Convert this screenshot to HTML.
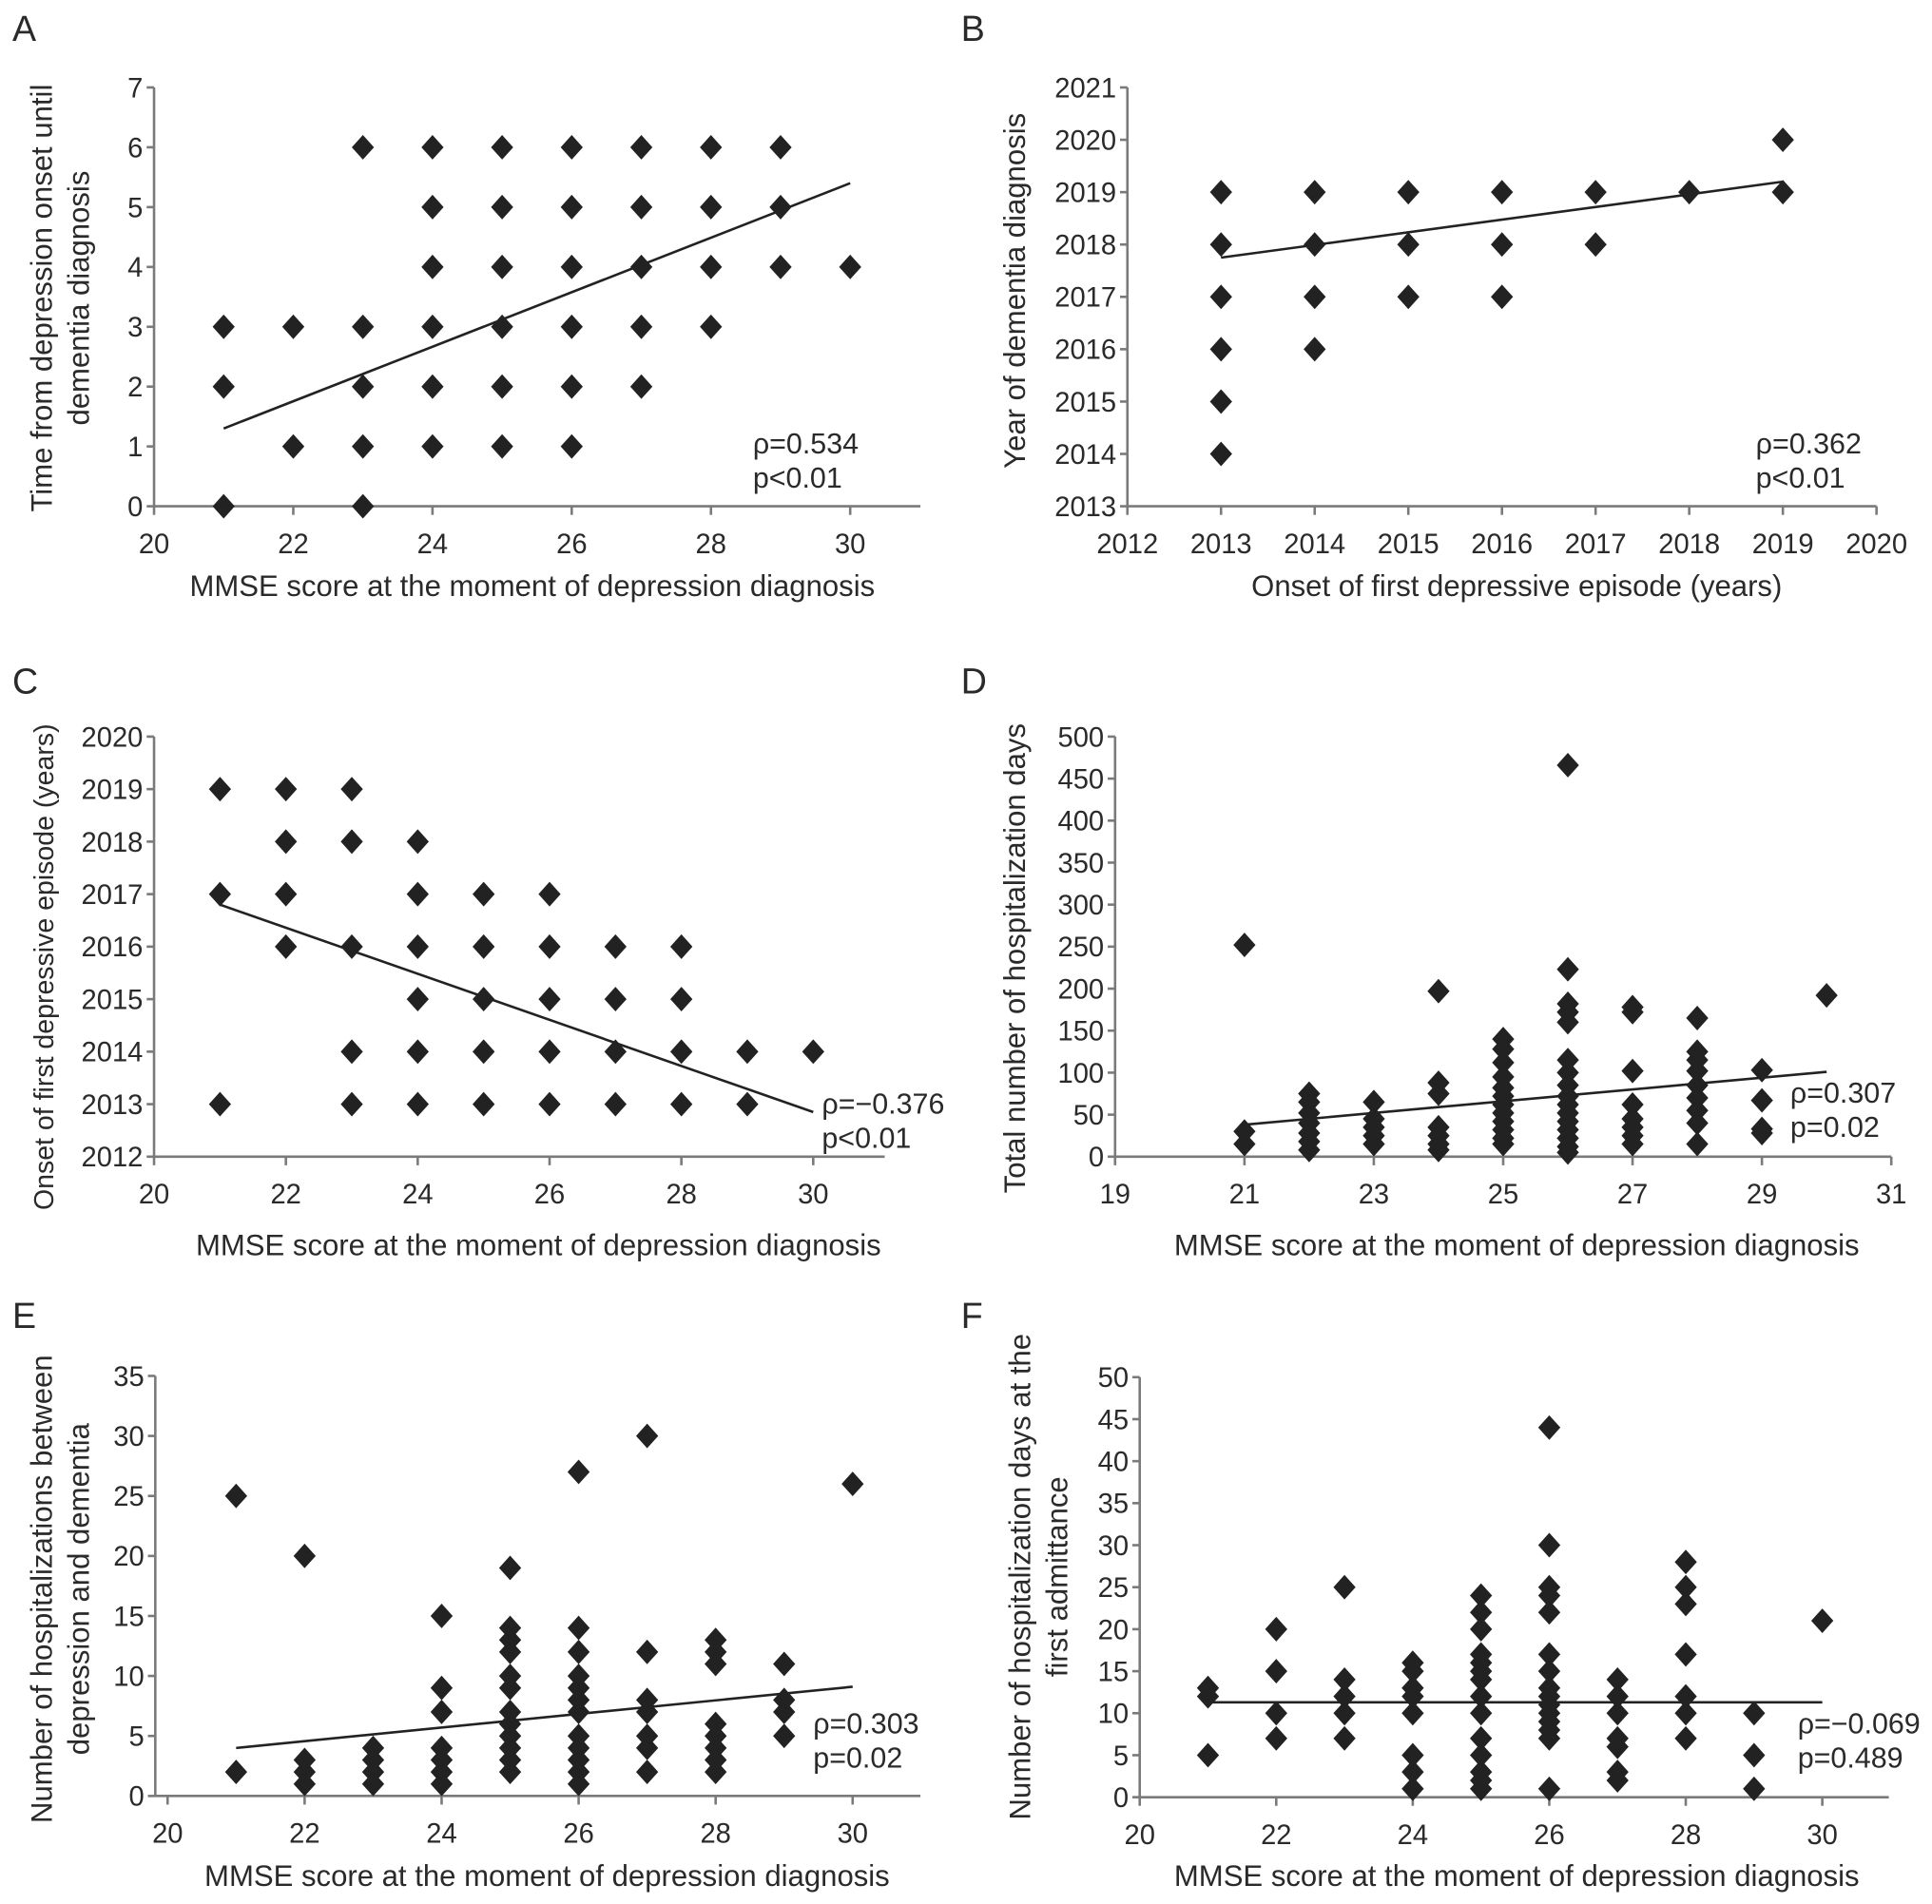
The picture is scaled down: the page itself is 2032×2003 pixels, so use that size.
<!DOCTYPE html>
<html><head><meta charset="utf-8">
<style>
html,body{margin:0;padding:0;background:#fff}
svg{display:block}
text{font-family:"Liberation Sans",sans-serif;fill:#2a2a2a}
</style></head>
<body>
<svg id="fig" width="2032" height="2003" viewBox="0 0 1568 1545.7" xmlns="http://www.w3.org/2000/svg"></svg>
<script>
// ---- Panel A data ----
const aX = [21,21,21,22,22,23,23,23,23,23,24,24,24,24,24,24,25,25,25,25,25,25,26,26,26,26,26,26,27,27,27,27,27,28,28,28,28,29,29,29,30];
const aY = [3,2,0,3,1,6,3,2,1,0,6,5,4,3,2,1,6,5,4,3,2,1,6,5,4,3,2,1,6,5,4,3,2,6,5,4,3,6,5,4,4];
const aTrend = [[21,1.3],[30,5.4]];
const aXTicks = [20,22,24,26,28,30];
const aYTicks = [0,1,2,3,4,5,6,7];
// ---- Panel B data ----
const bX = [2013,2013,2013,2013,2013,2013,2014,2014,2014,2014,2015,2015,2015,2016,2016,2016,2017,2017,2018,2019,2019];
const bY = [2019,2018,2017,2016,2015,2014,2019,2018,2017,2016,2019,2018,2017,2019,2018,2017,2019,2018,2019,2020,2019];
const bTrend = [[2013,2017.75],[2019,2019.2]];
const bXTicks = [2012,2013,2014,2015,2016,2017,2018,2019,2020];
const bYTicks = [2013,2014,2015,2016,2017,2018,2019,2020,2021];
// ---- Panel C data ----
const cX = [21,21,21,22,22,22,22,23,23,23,23,23,24,24,24,24,24,24,25,25,25,25,25,26,26,26,26,26,27,27,27,27,28,28,28,28,29,29,30];
const cY = [2019,2017,2013,2019,2018,2017,2016,2019,2018,2016,2014,2013,2018,2017,2016,2015,2014,2013,2017,2016,2015,2014,2013,2017,2016,2015,2014,2013,2016,2015,2014,2013,2016,2015,2014,2013,2014,2013,2014];
const cTrend = [[21,2016.8],[30,2012.85]];
const cXTicks = [20,22,24,26,28,30];
const cYTicks = [2012,2013,2014,2015,2016,2017,2018,2019,2020];
// ---- Panel D data ----
const dX = [21,21,21,22,22,22,22,22,22,22,23,23,23,23,23,24,24,24,24,24,24,24,25,25,25,25,25,25,25,25,25,25,25,25,26,26,26,26,26,26,26,26,26,26,26,26,26,26,26,26,27,27,27,27,27,27,27,27,28,28,28,28,28,28,28,28,28,29,29,29,29,30];
const dY = [252,30,15,75,65,52,40,28,18,8,65,45,35,25,15,197,88,75,35,25,15,8,140,128,112,95,82,72,62,52,42,32,22,15,466,223,182,172,160,115,100,85,72,62,52,42,32,22,12,5,178,172,102,62,45,35,25,15,165,125,115,102,85,70,55,40,15,103,67,33,28,192];
const dTrend = [[21,38],[30,101]];
const dXTicks = [19,21,23,25,27,29,31];
const dYTicks = [0,50,100,150,200,250,300,350,400,450,500];
// ---- Panel E data ----
const eX = [21,21,22,22,22,22,23,23,23,23,24,24,24,24,24,24,24,25,25,25,25,25,25,25,25,25,25,25,25,26,26,26,26,26,26,26,26,26,26,26,26,27,27,27,27,27,27,27,28,28,28,28,28,28,28,28,29,29,29,29,30];
const eY = [25,2,20,3,2,1,4,3,2,1,15,9,7,4,3,2,1,19,14,13,12,10,9,7,6,5,4,3,2,27,14,12,10,9,8,7,5,4,3,2,1,30,12,8,7,5,4,2,13,12,11,6,5,4,3,2,11,8,7,5,26];
const eTrend = [[21,4],[30,9.1]];
const eXTicks = [20,22,24,26,28,30];
const eYTicks = [0,5,10,15,20,25,30,35];
// ---- Panel F data ----
const fX = [21,21,21,22,22,22,22,23,23,23,23,23,24,24,24,24,24,24,24,24,25,25,25,25,25,25,25,25,25,25,25,25,25,25,26,26,26,26,26,26,26,26,26,26,26,26,26,26,26,27,27,27,27,27,27,27,28,28,28,28,28,28,28,29,29,29,30];
const fY = [13,12,5,20,15,10,7,25,14,12,10,7,16,15,13,12,10,5,3,1,24,22,20,17,16,15,14,12,10,7,5,3,2,1,44,30,25,24,22,17,15,13,12,11,10,9,8,7,1,14,12,10,7,6,3,2,28,25,23,17,12,10,7,10,5,1,21];
const fTrend = [[21,11.3],[30,11.3]];
const fXTicks = [20,22,24,26,28,30];
const fYTicks = [0,5,10,15,20,25,30,35,40,45,50];

const NS = "http://www.w3.org/2000/svg";
const svg = document.getElementById('fig');
function mk(tag, attrs, parent){
  const e = document.createElementNS(NS, tag);
  for (const k in attrs) e.setAttribute(k, attrs[k]);
  (parent||svg).appendChild(e);
  return e;
}
function panel(p){
  const g = mk('g', {});
  
  
  const sx = v => p.x0 + (v - p.xmin) / (p.xmax - p.xmin) * (p.x1 - p.x0);
  const sy = v => p.y0 - (v - p.ymin) / (p.ymax - p.ymin) * (p.y0 - p.y1);
  const ax = '#7a7a7a';
  const L = mk('text', {x:p.lx, y:p.ly, 'font-size':29}, g);
  L.textContent = p.id.toUpperCase();
  
  
  const yl = mk('line', {x1:p.axX, y1:p.y0, x2:p.axX, y2:sy(p.ymax), stroke:ax, 'stroke-width':2}, g);
  
  
  const xl = mk('line', {x1:p.axX, y1:p.y0, x2:p.xend, y2:p.y0, stroke:ax, 'stroke-width':2}, g);
  
  
  p.yt.forEach(v => {
    const y = sy(v);
    mk('line', {x1:p.axX-6, y1:y, x2:p.axX, y2:y, stroke:ax, 'stroke-width':2}, g);
    const t = mk('text', {x:p.axX-9, y:y+8, 'font-size':22.5, 'text-anchor':'end'}, g);
    t.textContent = v;
    
    
  });
  p.xt.forEach(v => {
    const x = sx(v);
    mk('line', {x1:x, y1:p.y0, x2:x, y2:p.y0+7, stroke:ax, 'stroke-width':2}, g);
    const t = mk('text', {x:x, y:p.y0+38, 'font-size':22.5, 'text-anchor':'middle'}, g);
    t.textContent = v;
    
    
  });
  const xt = mk('text', {x:p.xtx, y:p.xty, 'font-size':24, 'text-anchor':'middle'}, g);
  xt.textContent = p.xtitle;
  
  
  p.ytitle.forEach((s, i) => {
    const x = p.ytx + i * 30;
    const t = mk('text', {x:x, y:p.yty, 'font-size':p.yfs || 24, 'text-anchor':'middle', transform:'rotate(-90 '+x+' '+p.yty+')'}, g);
    t.textContent = s;
    
    
  });
  p.xs.forEach((xv, i) => {
    const x = sx(xv), y = sy(p.ys[i]);
    const d = mk('path', {d:'M'+x+' '+(y-10)+'L'+(x+9)+' '+y+'L'+x+' '+(y+10)+'L'+(x-9)+' '+y+'Z', fill:'#222'}, g);
    
    
  });
  const tl = mk('line', {x1:sx(p.tr[0][0]), y1:sy(p.tr[0][1]), x2:sx(p.tr[1][0]), y2:sy(p.tr[1][1]), stroke:'#222', 'stroke-width':2}, g);
  
  
  p.stats.forEach((s, i) => {
    const t = mk('text', {x:p.sx, y:p.sy + i*28, 'font-size':23.5}, g);
    t.textContent = s;
    
    
  });
}
panel({id:'a', xs:aX, ys:aY, tr:aTrend, xt:aXTicks, yt:aYTicks, xmin:20, xmax:30, x0:125, x1:690, ymin:0, ymax:7, y0:411, y1:71, axX:125, xend:747,
  lx:10, ly:33, xtitle:'MMSE score at the moment of depression diagnosis', xtx:432, xty:484,
  ytitle:['Time from depression onset until','dementia diagnosis'], ytx:42, yty:242, stats:['\u03c1=0.534','p<0.01'], sx:611, sy:368});
panel({id:'b', xs:bX, ys:bY, tr:bTrend, xt:bXTicks, yt:bYTicks, xmin:2012, xmax:2020, x0:915, x1:1523, ymin:2013, ymax:2021, y0:411, y1:71, axX:915, xend:1523,
  lx:780, ly:33, xtitle:'Onset of first depressive episode (years)', xtx:1231, xty:484,
  ytitle:['Year of dementia diagnosis'], ytx:832, yty:236, stats:['\u03c1=0.362','p<0.01'], sx:1425, sy:368});
panel({id:'c', xs:cX, ys:cY, tr:cTrend, xt:cXTicks, yt:cYTicks, xmin:20, xmax:30, x0:125, x1:660, ymin:2012, ymax:2020, y0:939, y1:598, axX:125, xend:718,
  lx:10, ly:563, xtitle:'MMSE score at the moment of depression diagnosis', xtx:437, xty:1019,
  ytitle:['Onset of first depressive episode (years)'], yfs:22, ytx:43, yty:785, stats:['\u03c1=\u22120.376','p<0.01'], sx:667, sy:904});
panel({id:'d', xs:dX, ys:dY, tr:dTrend, xt:dXTicks, yt:dYTicks, xmin:19, xmax:31, x0:905, x1:1535, ymin:0, ymax:500, y0:939, y1:598, axX:905, xend:1535,
  lx:780, ly:563, xtitle:'MMSE score at the moment of depression diagnosis', xtx:1231, xty:1019,
  ytitle:['Total number of hospitalization days'], ytx:832, yty:778, stats:['\u03c1=0.307','p=0.02'], sx:1453, sy:895});
panel({id:'e', xs:eX, ys:eY, tr:eTrend, xt:eXTicks, yt:eYTicks, xmin:20, xmax:30, x0:136, x1:692, ymin:0, ymax:35, y0:1458, y1:1117, axX:126, xend:747,
  lx:10, ly:1078, xtitle:'MMSE score at the moment of depression diagnosis', xtx:444, xty:1531,
  ytitle:['Number of hospitalizations between','depression and dementia'], ytx:42, yty:1290, stats:['\u03c1=0.303','p=0.02'], sx:660, sy:1407});
panel({id:'f', xs:fX, ys:fY, tr:fTrend, xt:fXTicks, yt:fYTicks, xmin:20, xmax:30, x0:925, x1:1479, ymin:0, ymax:50, y0:1459, y1:1118, axX:925, xend:1533,
  lx:780, ly:1078, xtitle:'MMSE score at the moment of depression diagnosis', xtx:1231, xty:1531,
  ytitle:['Number of hospitalization days at the','first admittance'], ytx:836, yty:1280, stats:['\u03c1=\u22120.069','p=0.489'], sx:1459, sy:1407});
</script>
</body></html>
